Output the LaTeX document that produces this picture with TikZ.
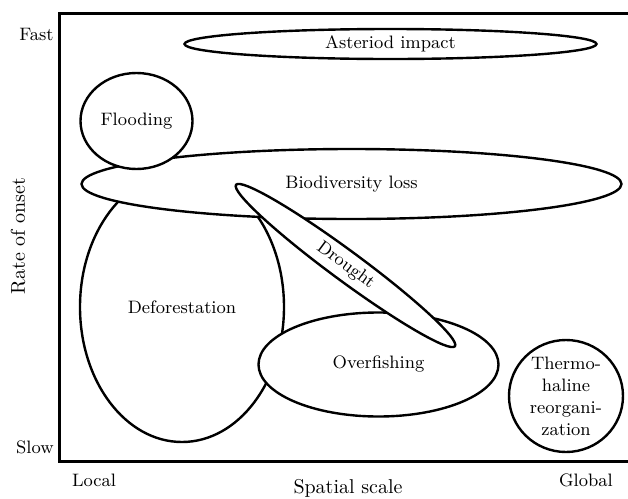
\documentclass[tikz,border=0pt]{standalone}
\usepackage{tikz}
\usetikzlibrary{positioning,shapes.geometric}

\tikzset{
  zone/.style={draw,ellipse,fill=white,line width=1.2pt,inner sep=0pt,
    font=\fontsize{9}{11}\selectfont,align=center},
  tick/.style={font=\fontsize{9}{11}\selectfont,inner sep=0pt},
  axistitle/.style={font=\fontsize{10}{12}\selectfont,inner sep=0pt}
}

\begin{document}
\begin{tikzpicture}[x=0.5pt,y=-0.5pt]
\useasboundingbox (0,0) rectangle (628,499);
\node[zone,minimum width=102pt,minimum height=135pt] (defor) at (182,307){Deforestation};
\node[zone,minimum width=270pt,minimum height=35pt] (biodiv) at (351.5,184){Biodiversity loss};
\node[zone,minimum width=56pt,minimum height=48pt] (flood) at (136.5,121){Flooding};
\node[zone,minimum width=120pt,minimum height=52pt] (overfish) at (378.5,364.5){Overfishing};
\node[zone,minimum width=136pt,minimum height=15pt,rotate=-36.4] (drought) at (345.5,265.5){Drought};
\node[zone,minimum width=206pt,minimum height=15pt] (asteroid) at (390.5,44){Asteriod impact};
\node[zone,minimum width=57pt,minimum height=56pt] (thermo) at (566,396){Thermo-\\haline\\reorgani-\\zation};

\coordinate (top) at (628,13);
\coordinate (origin) at (59,461);
\coordinate (right) at (628,461);
\draw[line width=1.5pt] (top) -| (origin) -- (right);

\node[tick,anchor=east] (fast) at (54,34) {Fast};
\node[tick,anchor=east] (slow) at (54,447) {Slow};
\node[tick] (local) at (94,480) {Local};
\node[tick] (global) at (586,480) {Global};
\node[axistitle] (xlabel) at (348,488) {Spatial scale};
\node[axistitle,rotate=90] (ylabel) at (18,236) {Rate of onset};
\end{tikzpicture}
\end{document}
